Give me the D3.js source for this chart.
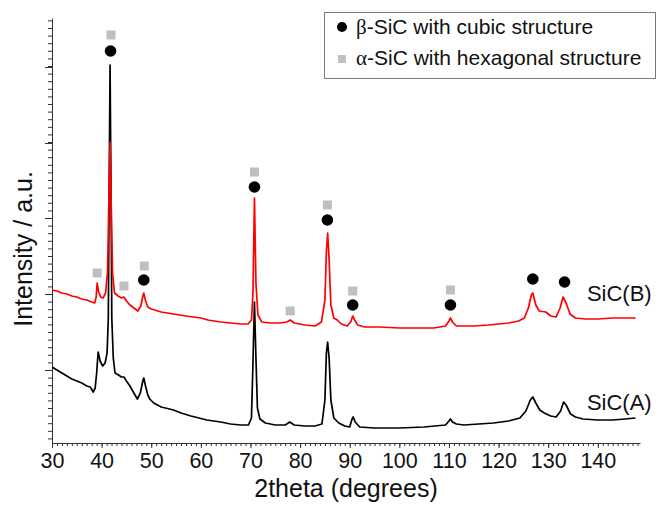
<!DOCTYPE html>
<html>
<head>
<meta charset="utf-8">
<script src="https://cdn.jsdelivr.net/npm/d3@7"></script>
<style>
  body { margin: 0; background: #fff; }
  svg text { font-family: Arial, "Liberation Sans", sans-serif; fill: #111; }
</style>
</head>
<body>
<svg id="chart" width="657" height="506"></svg>
<script>
// XRD patterns, [2theta, intensity in a.u.]
const sicA = [
  [30, 76], [31, 73], [32, 70], [33, 67], [34, 64], [35, 62], [36, 60], [37, 57], [37.7, 56],
  [38.3, 51], [38.7, 55], [39.0, 70], [39.3, 91], [39.7, 82], [40.2, 77], [40.7, 80], [41.1, 90],
  [41.35, 125], [41.5, 240], [41.7, 378], [41.9, 250], [42.05, 125], [42.35, 85], [42.7, 70],
  [43.4, 68], [44.0, 66], [44.5, 66], [45.0, 62], [45.7, 57], [46.5, 50], [47.2, 44], [47.8, 50],
  [48.3, 62], [48.5, 65], [48.8, 58], [49.3, 48], [49.7, 44], [50.5, 40], [52, 36], [54.5, 33],
  [56, 30], [58, 27], [61.2, 23], [64, 21], [66, 19], [68, 18], [69.6, 18], [70.2, 25], [70.5, 80],
  [70.8, 141], [71.1, 85], [71.4, 35], [71.9, 24], [73, 20], [75, 18], [77, 18], [77.9, 21],
  [78.8, 18], [81, 17], [83, 17], [84.4, 19], [85.0, 43], [85.3, 90], [85.55, 101], [85.85, 85],
  [86.2, 43], [86.8, 25], [87.8, 20], [89, 17], [90.0, 16], [90.4, 23], [90.7, 26], [91.1, 21],
  [92, 16], [95, 15], [100, 15], [105, 16], [109.3, 18], [110.0, 22], [110.3, 24], [110.7, 21],
  [111.5, 19], [113, 18], [116, 19], [119, 20], [122, 22], [124.3, 25], [125.5, 32], [126.4, 43],
  [126.9, 46], [127.5, 40], [128.3, 33], [129.2, 30], [130.5, 27], [131.6, 26], [132.5, 32],
  [133.1, 41], [133.6, 38], [134.5, 29], [135.5, 26], [137, 24], [140, 23], [143, 23], [145.5, 24],
  [147.6, 25]
];

const sicB = [
  [30, 153], [31, 152], [32, 150], [33, 149], [34, 147], [35, 146], [36, 144], [37, 143], [38, 141],
  [38.6, 140], [38.9, 146], [39.1, 160], [39.4, 151], [39.8, 146], [40.3, 145], [40.8, 150],
  [41.2, 172], [41.45, 240], [41.7, 301], [41.95, 235], [42.2, 170], [42.6, 150], [43.3, 147],
  [44.0, 145], [44.5, 146], [45.0, 142], [45.7, 138], [46.5, 135], [47.3, 132], [47.9, 137],
  [48.3, 147], [48.5, 150], [48.8, 143], [49.3, 136], [50, 134], [52, 131], [54.5, 129], [57, 127],
  [60, 125], [61.4, 123], [64, 121], [66, 120], [68, 119], [69.5, 119], [70.2, 123], [70.5, 150],
  [70.8, 245], [71.1, 160], [71.5, 128], [72.3, 121], [74, 120], [76, 120], [77.3, 121], [78.0, 123],
  [78.8, 120], [81, 118], [83, 117], [84.3, 121], [85.0, 143], [85.3, 192], [85.55, 210],
  [85.85, 183], [86.2, 138], [86.8, 125], [87.5, 123], [88.3, 119], [89.5, 117], [90.2, 121],
  [90.6, 127], [91.0, 123], [91.6, 118], [93, 116], [96, 116], [100, 115], [104, 115], [107, 115],
  [109.3, 117], [110.0, 122], [110.3, 125], [110.7, 121], [111.5, 117], [115, 117], [118, 118],
  [120, 119], [122, 120], [124, 122], [125.2, 125], [126.0, 135], [126.6, 148], [126.9, 150],
  [127.5, 138], [128.2, 132], [129.5, 131], [130.5, 127], [131.6, 126], [132.4, 135], [133.0, 146],
  [133.6, 140], [134.4, 129], [135.5, 125], [137.5, 124], [140, 124], [143, 125], [145.5, 125],
  [147.6, 125]
];

// phase markers, [2theta, a.u.]
const betaPeaks = [[41.8, 392], [48.5, 163], [70.8, 256], [85.5, 223], [90.6, 138], [110.3, 138], [126.9, 164], [133.3, 161]];
const alphaPeaks = [[41.9, 408], [39.1, 170], [44.5, 157], [48.6, 177], [70.8, 271], [78.0, 132], [85.5, 238], [90.6, 152], [110.3, 153]];

const xTicks = [30, 40, 50, 60, 70, 80, 90, 100, 110, 120, 130, 140];
const yMajorTicks = [73, 149, 225, 300, 376];
const traceLabels = [['SiC(B)', 137.8, 142], ['SiC(A)', 137.8, 33]];

'use strict';
const svg = d3.select('#chart');
svg.append('rect').attr('width', 657).attr('height', 506).attr('fill', '#fff');

const x = d3.scaleLinear().domain([30, 148.5]).range([52, 640]);
const y = d3.scaleLinear().domain([0, 425]).range([443, 18]);

// x axis: minor every degree, major with labels
svg.append('g')
  .attr('transform', 'translate(0,443)')
  .call(d3.axisBottom(x).tickValues(d3.range(31, 149, 1)).tickSize(3).tickFormat(''))
  .call(g => g.select('.domain').remove());

let xAxis = svg.append('g')
  .attr('transform', 'translate(0,443)')
  .call(d3.axisBottom(x).tickValues(xTicks).tickSize(5).tickSizeOuter(0).tickPadding(5));
xAxis.selectAll('text').attr('font-size', '21.5px').attr('fill', '#111');

// y axis, no labels
const yStep = (yMajorTicks[1] - yMajorTicks[0]) / 10;
svg.append('g')
  .attr('transform', 'translate(52,0)')
  .call(d3.axisLeft(y).tickValues(d3.range(yMajorTicks[0] - 9 * yStep, 424, yStep)).tickSize(4).tickFormat(''))
  .call(g => g.select('.domain').remove());
svg.append('g')
  .attr('transform', 'translate(52,0)')
  .call(d3.axisLeft(y).tickValues(yMajorTicks).tickSize(7).tickSizeOuter(0).tickFormat(''));

svg.selectAll('.domain, .tick line').attr('stroke', '#333');

svg.append('text')
  .attr('x', 346).attr('y', 497)
  .attr('text-anchor', 'middle')
  .attr('font-size', '25px')
  .text('2theta (degrees)');

svg.append('text')
  .attr('transform', 'translate(32,249) rotate(-90)')
  .attr('text-anchor', 'middle')
  .attr('font-size', '25px')
  .text('Intensity / a.u.');

// traces
let line = d3.line().x(d => x(d[0])).y(d => y(d[1]));
svg.append('path').datum(sicA)
  .attr('d', line).attr('fill', 'none').attr('stroke', '#000')
  .attr('stroke-width', 1.7).attr('stroke-linejoin', 'round');
svg.append('path').datum(sicB)
  .attr('d', line).attr('fill', 'none').attr('stroke', '#ff0000')
  .attr('stroke-width', 1.7).attr('stroke-linejoin', 'round');

// markers
svg.selectAll('.alpha').data(alphaPeaks).enter().append('rect')
  .attr('class', 'alpha')
  .attr('x', d => x(d[0]) - 4.5).attr('y', d => y(d[1]) - 4.5)
  .attr('width', 9).attr('height', 9)
  .attr('fill', '#bfbfbf');
svg.selectAll('.beta').data(betaPeaks).enter().append('circle')
  .attr('class', 'beta')
  .attr('cx', d => x(d[0])).attr('cy', d => y(d[1]))
  .attr('r', 5.8)
  .attr('fill', '#000');

svg.selectAll('.trace-label').data(traceLabels).enter().append('text')
  .attr('class', 'trace-label')
  .attr('x', d => x(d[1])).attr('y', d => y(d[2]))
  .attr('font-size', '22px')
  .text(d => d[0]);

// legend
let legend = svg.append('g');
legend.append('rect')
  .attr('x', 324.5).attr('y', 12.5).attr('width', 331).attr('height', 66)
  .attr('fill', '#fff').attr('stroke', '#7a7a7a');
legend.append('circle').attr('cx', 342).attr('cy', 27).attr('r', 5).attr('fill', '#000');
legend.append('rect').attr('x', 338).attr('y', 55).attr('width', 8).attr('height', 8).attr('fill', '#bfbfbf');

let t1 = legend.append('text').attr('x', 356).attr('y', 34).attr('font-size', '21px');
t1.append('tspan').attr('font-family', '"Liberation Serif", serif').text('β');
t1.append('tspan').text('-SiC with cubic structure');
let t2 = legend.append('text').attr('x', 356).attr('y', 65).attr('font-size', '21px');
t2.append('tspan').attr('font-family', '"Liberation Serif", serif').text('α');
t2.append('tspan').text('-SiC with hexagonal structure');
</script>
</body>
</html>
